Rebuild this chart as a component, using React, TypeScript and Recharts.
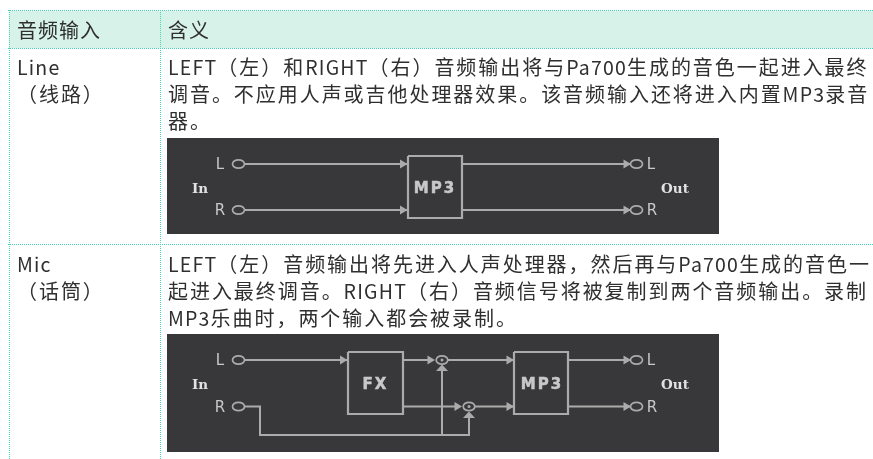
import React from 'react';
import { ComposedChart, Line, Scatter, XAxis, YAxis } from 'recharts';

// Table text
const headers = ['音频输入', '含义'];
const lineRowLabel = ['Line', '（线路）'];
const micRowLabel = ['Mic', '（话筒）'];
const lineRowText = [
  'LEFT（左）和RIGHT（右）音频输出将与Pa700生成的音色一起进入最终',
  '调音。不应用人声或吉他处理器效果。该音频输入还将进入内置MP3录音',
  '器。',
];
const micRowText = [
  'LEFT（左）音频输出将先进入人声处理器，然后再与Pa700生成的音色一',
  '起进入最终调音。RIGHT（右）音频信号将被复制到两个音频输出。录制',
  'MP3乐曲时，两个输入都会被录制。',
];

type Pt = { x: number; y: number };
type Tag = Pt & { text: string };

// First diagram, in diagram units
const lineWires: Pt[][] = [
  [{ x: 77, y: 26 }, { x: 240, y: 26 }],
  [{ x: 77, y: 72 }, { x: 240, y: 72 }],
  [{ x: 295, y: 26 }, { x: 464, y: 26 }],
  [{ x: 295, y: 72 }, { x: 464, y: 72 }],
];
const lineBoxes: Pt[][] = [
  [{ x: 241, y: 18 }, { x: 295, y: 18 }, { x: 295, y: 80 }, { x: 241, y: 80 }, { x: 241, y: 18 }],
];
const lineSockets: Pt[] = [
  { x: 71.5, y: 26 }, { x: 71.5, y: 72 }, { x: 469.5, y: 26 }, { x: 469.5, y: 72 },
];
const lineArrowsRight: Pt[] = [
  { x: 236.5, y: 26 }, { x: 236.5, y: 72 }, { x: 460, y: 26 }, { x: 460, y: 72 },
];
const lineTags: Tag[] = [
  { x: 53, y: 26, text: 'L' }, { x: 53, y: 72, text: 'R' },
  { x: 484, y: 26, text: 'L' }, { x: 485, y: 72, text: 'R' },
  { x: 268, y: 50, text: 'MP3' },
];
const lineSerifTags: Tag[] = [
  { x: 33, y: 50, text: 'In' }, { x: 508, y: 49.5, text: 'Out' },
];

// Second diagram, in diagram units
const micWires: Pt[][] = [
  [{ x: 77, y: 26 }, { x: 180, y: 26 }],
  [{ x: 77, y: 72.5 }, { x: 93, y: 72.5 }, { x: 93, y: 101 }, { x: 302, y: 101 }, { x: 302, y: 82 }],
  [{ x: 236, y: 26 }, { x: 265, y: 26 }],
  [{ x: 236, y: 72.5 }, { x: 292, y: 72.5 }],
  [{ x: 275, y: 101 }, { x: 275, y: 32 }],
  [{ x: 281, y: 26 }, { x: 346, y: 26 }],
  [{ x: 308, y: 72.5 }, { x: 346, y: 72.5 }],
  [{ x: 401, y: 26 }, { x: 464, y: 26 }],
  [{ x: 401, y: 72.5 }, { x: 464, y: 72.5 }],
];
const micBoxes: Pt[][] = [
  [{ x: 181, y: 18 }, { x: 236, y: 18 }, { x: 236, y: 80 }, { x: 181, y: 80 }, { x: 181, y: 18 }],
  [{ x: 347, y: 18 }, { x: 401, y: 18 }, { x: 401, y: 80 }, { x: 347, y: 80 }, { x: 347, y: 18 }],
];
const micSockets: Pt[] = [
  { x: 71.5, y: 26 }, { x: 71.5, y: 72.5 }, { x: 469.5, y: 26 }, { x: 469.5, y: 72.5 },
];
const micSummers: Pt[] = [{ x: 275, y: 26 }, { x: 302, y: 72.5 }];
const micArrowsRight: Pt[] = [
  { x: 176.5, y: 26 }, { x: 264, y: 26 }, { x: 291, y: 72.5 },
  { x: 343, y: 26 }, { x: 343, y: 72.5 }, { x: 460, y: 26 }, { x: 460, y: 72.5 },
];
const micArrowsUp: Pt[] = [{ x: 275, y: 34 }, { x: 302, y: 81 }];
const micTags: Tag[] = [
  { x: 53, y: 26, text: 'L' }, { x: 53, y: 72.5, text: 'R' },
  { x: 484, y: 26, text: 'L' }, { x: 485, y: 72.5, text: 'R' },
  { x: 208.5, y: 50, text: 'FX' }, { x: 375, y: 50, text: 'MP3' },
];
const micSerifTags: Tag[] = [
  { x: 33, y: 50, text: 'In' }, { x: 508, y: 49.5, text: 'Out' },
];

const DIAGRAM_BG = '#38383a';
const WIRE = '#ababab';
const INK = '#2f2f2f';
const TEAL = '#45d6b8';

const socketShape = (p: any) => (
  <ellipse cx={p.cx} cy={p.cy} rx={6} ry={4.2} fill="none" stroke={WIRE} strokeWidth={1.7} />
);
const summerShape = (p: any) => (
  <g>
    <ellipse cx={p.cx} cy={p.cy} rx={5.8} ry={4.2} fill="none" stroke={WIRE} strokeWidth={1.7} />
    <circle cx={p.cx} cy={p.cy} r={1.5} fill={WIRE} />
  </g>
);
const arrowRightShape = (p: any) => (
  <path d={`M${p.cx - 3.5} ${p.cy - 4.5}L${p.cx + 4} ${p.cy}L${p.cx - 3.5} ${p.cy + 4.5}Z`} fill={WIRE} />
);
const arrowUpShape = (p: any) => (
  <path d={`M${p.cx - 6} ${p.cy + 3}L${p.cx} ${p.cy - 3.5}L${p.cx + 6} ${p.cy + 3}Z`} fill={WIRE} />
);
const tagShape = (p: any) => {
  const isBlockName = p.payload.text.length > 1;
  return (
    <text
      x={p.cx}
      y={p.cy}
      textAnchor="middle"
      dominantBaseline="central"
      fill="#c8c8c8"
      stroke={isBlockName ? '#c8c8c8' : 'none'}
      strokeWidth={isBlockName ? 0.5 : 0}
      fontFamily="'DejaVu Sans', sans-serif"
      fontSize={15}
      fontWeight={isBlockName ? 700 : 400}
      letterSpacing={isBlockName ? 2 : 0}
    >
      {p.payload.text}
    </text>
  );
};
const serifTagShape = (p: any) => (
  <text
    x={p.cx}
    y={p.cy}
    textAnchor="middle"
    dominantBaseline="central"
    fill="#e2e2e2"
    fontFamily="'DejaVu Serif', serif"
    fontSize={13.5}
    fontWeight={700}
  >
    {p.payload.text}
  </text>
);

interface DiagramProps {
  height: number;
  wires: Pt[][];
  boxes: Pt[][];
  sockets: Pt[];
  summers?: Pt[];
  arrowsRight: Pt[];
  arrowsUp?: Pt[];
  tags: Tag[];
  serifTags: Tag[];
  left: number;
  top: number;
}

const Diagram = ({ height, wires, boxes, sockets, summers = [], arrowsRight, arrowsUp = [], tags, serifTags, left, top }: DiagramProps) => (
  <div style={{ position: 'absolute', left, top, width: 552, height, background: DIAGRAM_BG, filter: 'blur(0.4px)' }}>
    <ComposedChart width={552} height={height} margin={{ top: 0, right: 0, bottom: 0, left: 0 }}>
      <XAxis type="number" dataKey="x" domain={[0, 552]} hide />
      <YAxis type="number" dataKey="y" domain={[0, height]} reversed hide />
      {wires.map((w, i) => (
        <Line key={`wire-${i}`} data={w} dataKey="y" stroke={WIRE} strokeWidth={2} dot={false} activeDot={false} isAnimationActive={false} />
      ))}
      {boxes.map((b, i) => (
        <Line key={`box-${i}`} data={b} dataKey="y" stroke={WIRE} strokeWidth={2.2} dot={false} activeDot={false} isAnimationActive={false} />
      ))}
      <Scatter data={sockets} dataKey="y" shape={socketShape} isAnimationActive={false} />
      <Scatter data={summers} dataKey="y" shape={summerShape} isAnimationActive={false} />
      <Scatter data={arrowsRight} dataKey="y" shape={arrowRightShape} isAnimationActive={false} />
      <Scatter data={arrowsUp} dataKey="y" shape={arrowUpShape} isAnimationActive={false} />
      <Scatter data={tags} dataKey="y" shape={tagShape} isAnimationActive={false} />
      <Scatter data={serifTags} dataKey="y" shape={serifTagShape} isAnimationActive={false} />
    </ComposedChart>
  </div>
);

const textStyle: React.CSSProperties = {
  position: 'absolute',
  whiteSpace: 'nowrap',
  fontFamily: "'Noto Sans CJK SC', 'Noto Sans', sans-serif",
  fontSize: 20,
  lineHeight: '27px',
  color: INK,
  filter: 'blur(0.25px)',
};

// Latin runs sit tighter than the CJK text around them
const renderRuns = (line: string) =>
  line.split(/([A-Za-z0-9]+)/).map((run, i) =>
    /^[A-Za-z0-9]+$/.test(run) ? (
      <span key={i} style={{ letterSpacing: 1.2, fontSize: 19.5 }}>{run}</span>
    ) : (
      <span key={i}>{run}</span>
    )
  );

const TextBlock = ({ lines, left, top, spacing }: { lines: string[]; left: number; top: number; spacing?: number }) => (
  <div style={{ ...textStyle, left, top, letterSpacing: spacing ?? 1.95 }}>
    {lines.map((l) => (
      <div key={l}>{renderRuns(l)}</div>
    ))}
  </div>
);

const hDot = (top: number): React.CSSProperties => ({
  position: 'absolute', left: 8, right: 0, top, height: 0, borderTop: `1px dotted ${TEAL}`,
});
const vDot = (left: number, top: number): React.CSSProperties => ({
  position: 'absolute', left, top, bottom: 0, width: 0, borderLeft: `1px dotted ${TEAL}`,
});

export default function App() {
  return (
    <div style={{ position: 'absolute', left: 0, top: 0, width: 873, height: 459, overflow: 'hidden', background: '#fff' }}>
      <div style={{ position: 'absolute', left: 9, right: 0, top: 11, height: 37, background: '#d7f2e9' }} />
      <div style={hDot(10)} />
      <div style={hDot(48)} />
      <div style={hDot(244)} />
      <div style={vDot(9, 10)} />
      <div style={vDot(160, 10)} />
      <TextBlock lines={[headers[0]]} left={17} top={16} spacing={1} />
      <TextBlock lines={[headers[1]]} left={168} top={16} spacing={1} />
      <TextBlock lines={lineRowLabel} left={17} top={53} />
      <TextBlock lines={lineRowText} left={168} top={53} />
      <Diagram
        left={167}
        top={138}
        height={96}
        wires={lineWires}
        boxes={lineBoxes}
        sockets={lineSockets}
        arrowsRight={lineArrowsRight}
        tags={lineTags}
        serifTags={lineSerifTags}
      />
      <TextBlock lines={micRowLabel} left={17} top={250} />
      <TextBlock lines={micRowText} left={168} top={250} />
      <Diagram
        left={167}
        top={334}
        height={118}
        wires={micWires}
        boxes={micBoxes}
        sockets={micSockets}
        summers={micSummers}
        arrowsRight={micArrowsRight}
        arrowsUp={micArrowsUp}
        tags={micTags}
        serifTags={micSerifTags}
      />
    </div>
  );
}
